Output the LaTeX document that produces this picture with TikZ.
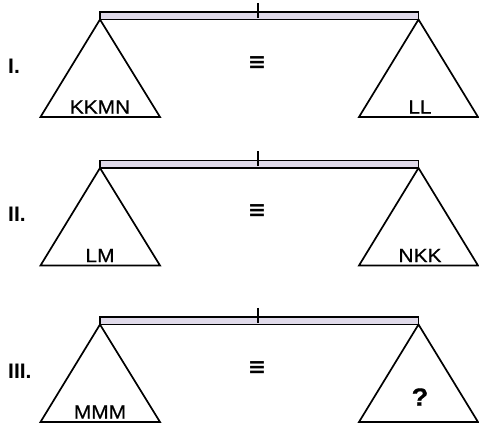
\documentclass[tikz,border=0pt]{standalone}
\usepackage{fontspec}
\setmainfont{Liberation Sans}
\newfontfamily\weightfont[FakeStretch=1.1,FakeBold=0.6]{Liberation Sans}
\newfontfamily\symfont{DejaVu Sans}
\definecolor{beamfill}{RGB}{224,218,234}
\tikzset{
  beam/.style={draw=black, line width=1.9pt, fill=beamfill},
  pan/.style={draw=black, line width=1.7pt, line join=miter},
  pivot/.style={draw=black, line width=1.4pt},
  weights/.style={font=\weightfont\fontsize{19}{19}\selectfont, inner sep=0pt},
  numeral/.style={font=\fontsize{21}{21}\selectfont\bfseries, anchor=west, inner sep=0pt},
  equal/.style={font=\symfont\bfseries\fontsize{22}{22}\selectfont, inner sep=0pt}
}
\begin{document}
\begin{tikzpicture}[x=1pt, y=-1pt]
  \useasboundingbox (0,0) rectangle (479,427);
  % three balances: beam top / numeral / left pan / right pan / right text offset
  \foreach \t/\n/\lw/\rw/\ro [count=\i] in {12/I./KKMN/LL/95, 160.5/II./LM/NKK/95, 317/III./MMM/{\bfseries\fontsize{25}{25}\selectfont ?}/80} {
    \coordinate (top\i) at (258,\t-9);
    \coordinate (mid\i) at (258,\t+6);
    \coordinate (lapex\i) at (100,\t+7.5);
    \coordinate (rapex\i) at (418.5,\t+7.5);
    \coordinate (lbl\i) at (40.5,\t+105);
    \coordinate (lbr\i) at (160,\t+105);
    \coordinate (rbl\i) at (359,\t+105);
    \coordinate (rbr\i) at (478,\t+105);
    \draw[beam] (100,\t) rectangle (418.5,\t+7.5);
    \draw[pivot] (top\i) -- (mid\i);
    \draw[pan] (lapex\i) -- (lbl\i) -- (lbr\i) -- cycle;
    \draw[pan] (rapex\i) -- (rbl\i) -- (rbr\i) -- cycle;
    \node[numeral] (num\i) at (8,\t+54) {\n};
    \node[equal] (eq\i) at (257,\t+51) {≡};
    \node[weights] (left\i) at (100,\t+95) {\lw};
    \node[weights] (right\i) at (420,\t+\ro) {\rw};
  }
\end{tikzpicture}
\end{document}
